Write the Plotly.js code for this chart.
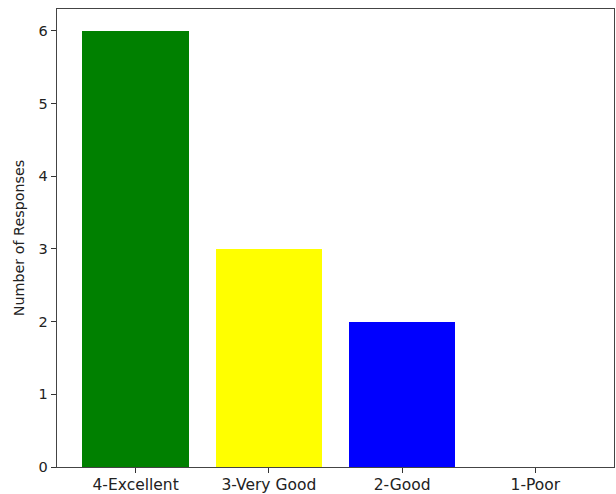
<!DOCTYPE html>
<html>
<head>
<meta charset="utf-8">
<script src="https://cdn.plot.ly/plotly-3.0.1.min.js"></script>
<style>html,body{margin:0;padding:0;background:#fff;}#chart{width:616px;height:494px;}</style>
</head>
<body>
<div id="chart"></div>
<script>
const categories = ["4-Excellent", "3-Very Good", "2-Good", "1-Poor"];
const responses = [6, 3, 2, 0];
const barColors = ["#008000", "#ffff00", "#0000ff", "#ff0000"];
const yTicks = [0, 1, 2, 3, 4, 5, 6];

const trace = {
  type: "bar",
  x: categories.map((_, i) => i),
  y: responses,
  width: 0.8,
  marker: {color: barColors, line: {width: 0}},
  hoverinfo: "skip"
};

const layout = {
  width: 616, height: 494,
  margin: {l: 57, r: 2, t: 9, b: 27},
  paper_bgcolor: "#fff", plot_bgcolor: "#fff",
  font: {family: "DejaVu Sans, sans-serif", size: 14, color: "#222"},
  showlegend: false,
  bargap: 0,
  xaxis: {
    range: [-0.59, 3.59],
    tickmode: "array",
    tickvals: categories.map((_, i) => i),
    ticktext: categories,
    ticks: "outside", ticklen: 5, tickwidth: 1, tickcolor: "#333",
    showline: true, linecolor: "#444", linewidth: 1.3, mirror: true,
    showgrid: false, zeroline: false,
    ticklabelstandoff: -2,
    tickfont: {size: 15.5, color: "#222"}
  },
  yaxis: {
    range: [0, 6.3],
    tickmode: "array",
    tickvals: yTicks,
    ticktext: yTicks.map(String),
    ticks: "outside", ticklen: 5, tickwidth: 1, tickcolor: "#333",
    showline: true, linecolor: "#444", linewidth: 1.3, mirror: true,
    showgrid: false, zeroline: false,
    tickfont: {size: 14.5, color: "#222"},
    title: {text: "Number of Responses", font: {size: 14.3, color: "#222"}, standoff: 10}
  }
};

Plotly.newPlot("chart", [trace], layout, {displayModeBar: false, staticPlot: true});
</script>
</body>
</html>
